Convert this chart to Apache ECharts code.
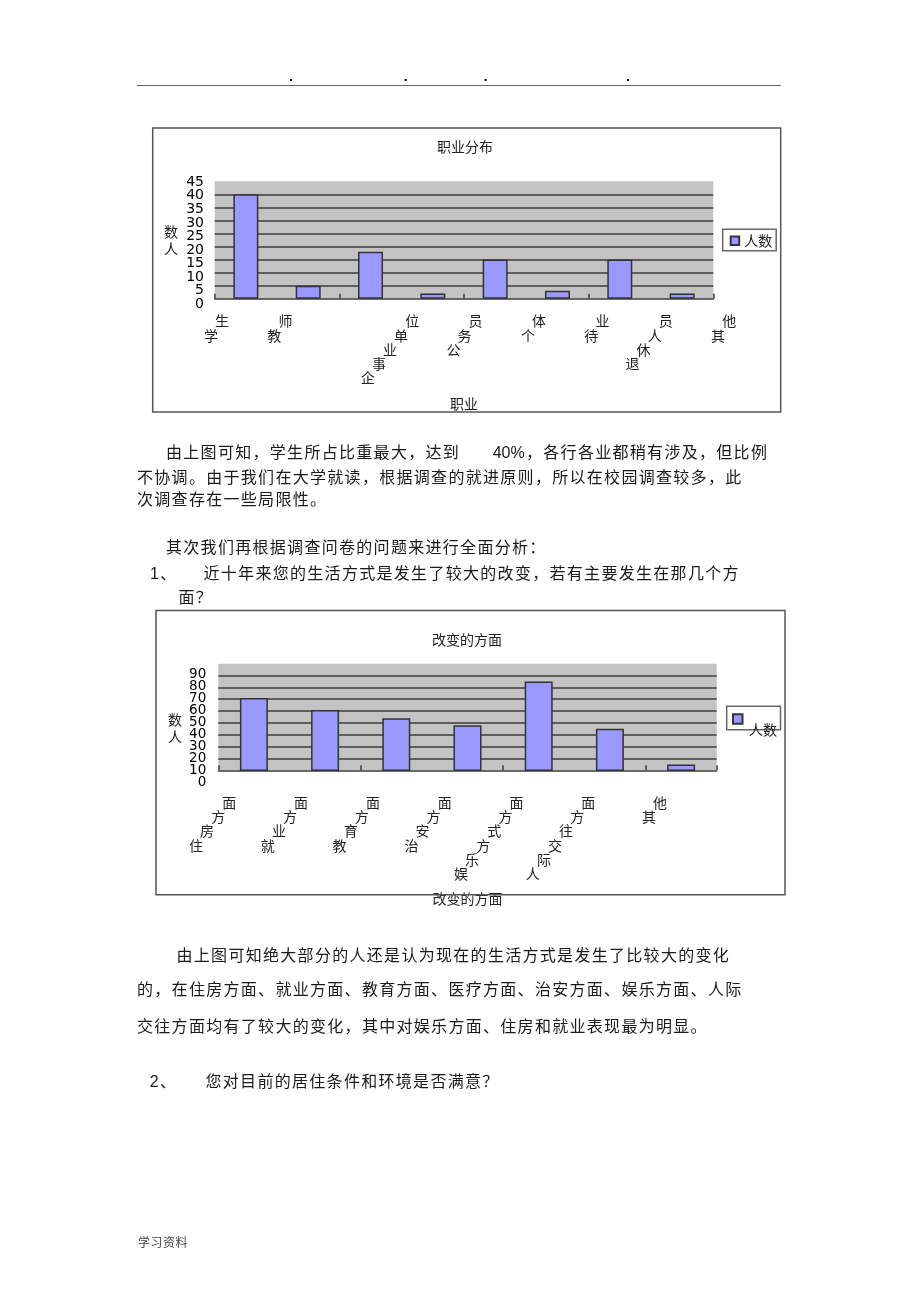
<!DOCTYPE html>
<html>
<head>
<meta charset="utf-8">
<script src="https://cdn.jsdelivr.net/npm/echarts@6/dist/echarts.min.js"></script>
<style>
html,body{margin:0;padding:0;background:#fff;}
#page{position:relative;width:920px;height:1303px;overflow:hidden;background:#fff;}
#chart{position:absolute;left:0;top:0;width:920px;height:1303px;}
.t{position:absolute;white-space:nowrap;font-family:"Liberation Sans","Noto Sans CJK SC",sans-serif;font-size:16px;line-height:16px;letter-spacing:1.3px;color:#1a1a1a;}
.f{position:absolute;white-space:nowrap;font-family:"Noto Sans CJK SC",sans-serif;font-size:12px;line-height:12px;letter-spacing:0.5px;color:#444;}
</style>
</head>
<body>
<div id="page">
<div id="chart"></div>
<div class="t" style="left:166px;top:444.7px">由上图可知，学生所占比重最大，达到</div>
<div class="t" style="left:492.7px;top:444.7px;letter-spacing:0">40%</div>
<div class="t" style="left:526px;top:444.7px">，各行各业都稍有涉及，但比例</div>
<div class="t" style="left:137px;top:470.3px">不协调。由于我们在大学就读，根据调查的就进原则，所以在校园调查较多，此</div>
<div class="t" style="left:137px;top:492px">次调查存在一些局限性。</div>
<div class="t" style="left:166px;top:540.3px">其次我们再根据调查问卷的问题来进行全面分析：</div>
<div class="t" style="left:150px;top:566px">1、</div>
<div class="t" style="left:203.5px;top:566px">近十年来您的生活方式是发生了较大的改变，若有主要发生在那几个方</div>
<div class="t" style="left:178.5px;top:590.3px">面？</div>
<div class="t" style="left:176.5px;top:948px">由上图可知绝大部分的人还是认为现在的生活方式是发生了比较大的变化</div>
<div class="t" style="left:137px;top:982px">的，在住房方面、就业方面、教育方面、医疗方面、治安方面、娱乐方面、人际</div>
<div class="t" style="left:137px;top:1018.7px">交往方面均有了较大的变化，其中对娱乐方面、住房和就业表现最为明显。</div>
<div class="t" style="left:149.8px;top:1073.7px">2、</div>
<div class="t" style="left:205.5px;top:1073.7px">您对目前的居住条件和环境是否满意？</div>
<div class="f" style="left:138px;top:1236.3px">学习资料</div>
</div>
<script>
// ---- data ----
const jobCategories = ['学生', '教师', '企事业单位', '公务员', '个体', '待业', '退休人员', '其他'];
const jobCounts = [40, 5, 18, 2, 15, 3, 15, 2];
const jobTickLabels = ['学生', '教师', '', '企事业单位', '公务员', '个体', '待业', '退休人员', '其他'];
const jobValueTicks = ['0', '5', '10', '15', '20', '25', '30', '35', '40', '45'];

const changeCategories = ['住房方面', '就业方面', '教育方面', '治安方面', '娱乐方式方面', '人际交往方面', '其他'];
const changeCounts = [71, 61, 54, 48, 85, 45, 15];
const changeTickLabels = ['住房方面', '就业方面', '教育方面', '治安方面', '娱乐方式方面', '人际交往方面', '其他'];
const changeValueTicks = ['0', '10', '20', '30', '40', '50', '60', '70', '80', '90'];

// ---- style ----
const CJK = '"Noto Sans CJK SC", sans-serif';
const NUM = '"DejaVu Sans", sans-serif';
const TXT = '#222';
const GRIDLINE = { color: '#3c3c3c', width: 1.5 };
const STEP = 11.1, LH = 14.2;
const rich = {};
for (let k = 0; k < 8; k++) {
  rich['r' + k] = { fontSize: 14, fontFamily: CJK, color: TXT, lineHeight: LH, padding: [0, k * STEP, 0, 0] };
}
function diag(s) {
  const c = Array.from(s || '');
  const n = c.length;
  const lines = [];
  for (let k = 0; k < n; k++) lines.push('{r' + k + '|' + c[n - 1 - k] + '}');
  return lines.join('\n');
}
const nameStyle = { fontSize: 14, fontFamily: CJK, color: TXT };
const barStyle = { color: '#9999ff', borderColor: '#333', borderWidth: 1.5 };
const hiddenValue = (g) => ({ gridIndex: g, type: 'value', show: false });
const PLOT_BG = '#c3c3c3';

const chart = echarts.init(document.getElementById('chart'), null, { renderer: 'canvas' });
chart.setOption({
  animation: false,
  backgroundColor: 'transparent',
  title: [
    { text: '职业分布', left: 465, top: 139.7, textAlign: 'center', padding: 0,
      textStyle: { fontSize: 14, fontWeight: 'normal', fontFamily: CJK, color: TXT, lineHeight: 14 } },
    { text: '改变的方面', left: 467, top: 632.3, textAlign: 'center', padding: 0,
      textStyle: { fontSize: 14, fontWeight: 'normal', fontFamily: CJK, color: TXT, lineHeight: 14 } }
  ],
  legend: [
    { left: 722.7, top: 229.3, orient: 'vertical', padding: [4.5, 4, 3, 7], itemWidth: 8.5, itemHeight: 8.5,
      itemGap: 0, itemTextGap: 6.8, borderColor: '#666', borderWidth: 1.5, backgroundColor: '#fff',
      data: ['人数'], icon: 'rect', selectedMode: false,
      textStyle: { fontSize: 14, lineHeight: 14, fontFamily: CJK, color: TXT } },
    { left: 726.7, top: 706.3, orient: 'vertical', padding: [6.9, 33, 5, 5.3], itemWidth: 9.5, itemHeight: 9.5,
      itemGap: 0, itemTextGap: 0, borderColor: '#666', borderWidth: 1.5, backgroundColor: '#fff',
      data: ['人数'], icon: 'rect', selectedMode: false, formatter: function () { return ''; },
      textStyle: { fontSize: 14, lineHeight: 14, fontFamily: CJK, color: TXT } }
  ],
  grid: [
    { left: 214.7, top: 181.3, width: 498.6, height: 117.4, show: true, backgroundColor: PLOT_BG, borderWidth: 0, containLabel: false, outerBoundsMode: 'none' },
    { left: 197.3, top: 181.3, width: 570.6, height: 117.4, containLabel: false, outerBoundsMode: 'none' },
    { left: 214.7, top: 182.3, width: 10, height: 122, containLabel: false, outerBoundsMode: 'none' },
    { left: 218.3, top: 663.7, width: 498.4, height: 106.6, show: true, backgroundColor: PLOT_BG, borderWidth: 0, containLabel: false, outerBoundsMode: 'none' },
    { left: 200.4, top: 663.7, width: 502.6, height: 106.6, containLabel: false, outerBoundsMode: 'none' },
    { left: 218.3, top: 674.3, width: 10, height: 107.7, containLabel: false, outerBoundsMode: 'none' }
  ],
  xAxis: [
    { gridIndex: 0, type: 'category', data: jobCategories,
      axisLine: { show: true, lineStyle: GRIDLINE },
      axisTick: { show: true, inside: true, length: 5, alignWithLabel: false, lineStyle: GRIDLINE },
      axisLabel: { show: false }, splitLine: { show: false },
      name: '职业', nameLocation: 'middle', nameGap: 97.6, nameTextStyle: nameStyle },
    { gridIndex: 1, type: 'category', data: jobTickLabels,
      axisLine: { show: false }, axisTick: { show: false }, splitLine: { show: false },
      axisLabel: { show: true, interval: 0, align: 'right', margin: 15.2, formatter: diag, rich: rich, hideOverlap: false } },
    hiddenValue(2),
    { gridIndex: 3, type: 'category', data: changeCategories,
      axisLine: { show: true, lineStyle: GRIDLINE },
      axisTick: { show: true, inside: true, length: 5, alignWithLabel: false, lineStyle: GRIDLINE },
      axisLabel: { show: false }, splitLine: { show: false },
      name: '改变的方面', nameLocation: 'middle', nameGap: 121.7, nameTextStyle: nameStyle },
    { gridIndex: 4, type: 'category', data: changeTickLabels,
      axisLine: { show: false }, axisTick: { show: false }, splitLine: { show: false },
      axisLabel: { show: true, interval: 0, align: 'right', margin: 25.3, formatter: diag, rich: rich, hideOverlap: false } },
    hiddenValue(5)
  ],
  yAxis: [
    { gridIndex: 0, type: 'value', min: 0, max: 45, interval: 5,
      axisLine: { show: false }, axisTick: { show: false }, axisLabel: { show: false },
      splitLine: { show: true, showMinLine: false, showMaxLine: false, lineStyle: GRIDLINE },
      name: '数\n人', nameLocation: 'middle', nameRotate: 0, nameGap: 36.7,
      nameTextStyle: Object.assign({ lineHeight: 16.5 }, nameStyle) },
    hiddenValue(1),
    { gridIndex: 2, type: 'category', data: jobValueTicks, boundaryGap: false,
      axisLine: { show: false }, axisTick: { show: false }, splitLine: { show: false },
      axisLabel: { show: true, interval: 0, margin: 10.7, fontSize: 14, fontFamily: NUM, color: '#000', hideOverlap: false } },
    { gridIndex: 3, type: 'value', min: 10, max: 100, interval: 10,
      axisLine: { show: false }, axisTick: { show: false }, axisLabel: { show: false },
      splitLine: { show: true, showMinLine: false, showMaxLine: false, lineStyle: GRIDLINE } },
    hiddenValue(4),
    { gridIndex: 5, type: 'category', data: changeValueTicks, boundaryGap: false,
      axisLine: { show: false }, axisTick: { show: false }, splitLine: { show: false },
      axisLabel: { show: true, interval: 0, margin: 12, fontSize: 13.5, fontFamily: NUM, color: '#000', hideOverlap: false },
      name: '数\n人', nameLocation: 'middle', nameRotate: 0, nameGap: 36.3,
      nameTextStyle: Object.assign({ lineHeight: 16.5 }, nameStyle) }
  ],
  series: [
    { type: 'bar', name: '人数', xAxisIndex: 0, yAxisIndex: 0, data: jobCounts, barWidth: 25, itemStyle: barStyle, clip: true },
    { type: 'bar', name: '人数', xAxisIndex: 3, yAxisIndex: 3, data: changeCounts, barWidth: 28, itemStyle: barStyle, clip: true }
  ],
  graphic: { elements: [
    { type: 'line', shape: { x1: 137, y1: 85.5, x2: 781, y2: 85.5 }, style: { stroke: '#666', lineWidth: 1.2 }, z: 100 },
    { type: 'rect', shape: { x: 290, y: 79, width: 2, height: 2 }, style: { fill: '#000' }, z: 100 },
    { type: 'rect', shape: { x: 404.7, y: 79, width: 2, height: 2 }, style: { fill: '#000' }, z: 100 },
    { type: 'rect', shape: { x: 484.6, y: 79, width: 2, height: 2 }, style: { fill: '#000' }, z: 100 },
    { type: 'rect', shape: { x: 627, y: 79, width: 2, height: 2 }, style: { fill: '#000' }, z: 100 },
    { type: 'rect', shape: { x: 152.7, y: 128, width: 628, height: 284 }, style: { fill: 'none', stroke: '#555', lineWidth: 1.5 }, z: 100 },
    { type: 'rect', shape: { x: 156, y: 610.5, width: 629, height: 284.2 }, style: { fill: 'none', stroke: '#555', lineWidth: 1.5 }, z: 100 },
    { type: 'text', x: 749, y: 729.7, style: { text: '人数', fontSize: 14, fontFamily: CJK, fill: TXT, verticalAlign: 'middle' }, z: 100 }
  ] }
});
</script>
</body>
</html>
